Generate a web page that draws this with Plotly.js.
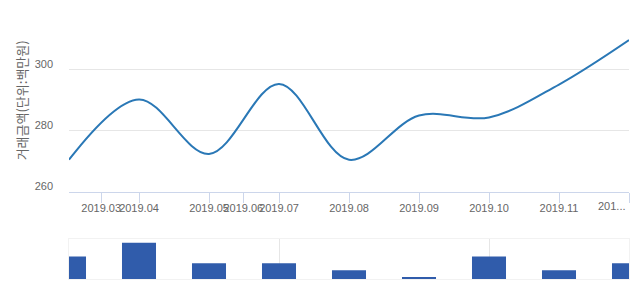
<!DOCTYPE html>
<html><head><meta charset="utf-8">
<script src="https://cdn.plot.ly/plotly-3.0.1.min.js"></script>
<style>html,body{margin:0;padding:0;background:#fff}#c{width:640px;height:294px}</style>
</head><body><div id="c"></div>
<script>
// data
const monthIdx = [0, 1, 2, 3, 4, 5, 6, 7, 8];
const priceValues = [270.5, 290.3, 272.4, 295.4, 270.5, 285.0, 284.4, 295.2, 309.8];
const tradeCounts = [4, 6, 3, 3, 2, 1, 4, 2, 3];
const xTickVals = [0.46, 1, 2, 2.49, 3, 4, 5, 6, 7, 8];
const xTickText = ['2019.03', '2019.04', '2019.05', '2019.06', '2019.07', '2019.08', '2019.09', '2019.10', '2019.11', ''];
const lastTickText = '201...';
const yTickVals = [260, 280, 300, 320];
const yTickText = ['260', '280', '300', ''];
const yTitle = '거래금액(단위:백만원)';

const traces = [
  {x: monthIdx, y: priceValues, type: 'scatter', mode: 'lines',
   line: {shape: 'spline', smoothing: 1, color: '#2a78b6', width: 2},
   xaxis: 'x', yaxis: 'y', hoverinfo: 'none'},
  {x: monthIdx, y: tradeCounts, type: 'bar', marker: {color: '#305cab'},
   xaxis: 'x2', yaxis: 'y2', hoverinfo: 'none'}
];
const layout = {
  width: 640, height: 294,
  margin: {l: 69, r: 11, t: 9, b: 15},
  paper_bgcolor: '#fff', plot_bgcolor: '#fff',
  showlegend: false,
  bargap: 0.514,
  font: {family: 'Liberation Sans, Arial, sans-serif', size: 11, color: '#666'},
  xaxis: {range: [0, 8], domain: [0, 1], anchor: 'y',
    tickmode: 'array', tickvals: xTickVals, ticktext: xTickText, tickangle: 0,
    ticks: 'outside', ticklen: 10, tickcolor: '#ccd6eb', tickwidth: 1,
    ticklabelstandoff: -4, ticklabeloverflow: 'allow',
    showline: true, linecolor: '#ccd6eb', linewidth: 1,
    showgrid: false, zeroline: false,
    tickfont: {size: 11, color: '#666'}, fixedrange: true},
  yaxis: {range: [260, 320], domain: [0.3233, 1], anchor: 'x',
    tickmode: 'array', tickvals: yTickVals, ticktext: yTickText,
    ticks: '', showline: false, gridcolor: '#e6e6e6', gridwidth: 1, zeroline: false,
    ticklabelstandoff: 15, ticklabelshift: -6,
    tickfont: {size: 11, color: '#666'},
    title: {text: yTitle, standoff: 4, font: {family: 'Noto Sans CJK KR, sans-serif', size: 13, color: '#666'}},
    fixedrange: true},
  xaxis2: {range: [0, 8], domain: [0, 1], anchor: 'y2',
    tickmode: 'array', tickvals: [0, 3, 6], showticklabels: false, ticks: '',
    showgrid: true, gridcolor: '#e6e6e6', zeroline: false,
    showline: true, mirror: true, linecolor: '#f2f2f2', linewidth: 1, fixedrange: true},
  yaxis2: {range: [0.71, 6.54], domain: [0, 0.148], anchor: 'x2',
    showticklabels: false, ticks: '', showgrid: false, zeroline: false,
    showline: true, mirror: true, linecolor: '#f2f2f2', linewidth: 1, fixedrange: true},
  annotations: [{x: xTickVals[xTickVals.length - 1], xref: 'x', y: 206, yref: 'paper',
    text: lastTickText, showarrow: false, xanchor: 'right', xshift: -1, yanchor: 'middle',
    font: {size: 11, color: '#666'}}]
};
// place annotation at pixel row ~206 using paper fraction
layout.annotations[0].y = (294 - 15 - 206) / (294 - 9 - 15);
Plotly.newPlot('c', traces, layout, {displayModeBar: false, staticPlot: true});
</script></body></html>
